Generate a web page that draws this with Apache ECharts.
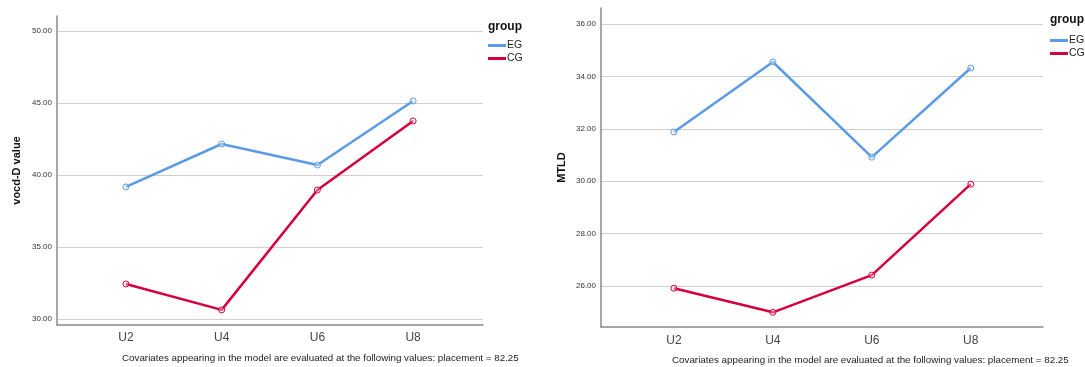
<!DOCTYPE html>
<html>
<head>
<meta charset="utf-8">
<script src="https://cdn.jsdelivr.net/npm/echarts@6/dist/echarts.min.js"></script>
<style>
html,body{margin:0;padding:0;background:#fff;}
#c{width:1085px;height:367px;}
</style>
</head>
<body>
<div id="c"></div>
<script>
var categories = ['U2', 'U4', 'U6', 'U8'];
var vocdEG = [39.17, 42.15, 40.69, 45.14];
var vocdCG = [32.43, 30.63, 38.96, 43.75];
var mtldEG = [31.88, 34.55, 30.92, 34.32];
var mtldCG = [25.92, 25.00, 26.42, 29.89];
var vocdTicks = [30, 35, 40, 45, 50];
var mtldTicks = [26, 28, 30, 32, 34, 36];
var footnote = 'Covariates appearing in the model are evaluated at the following values: placement = 82.25';

var FONT = 'Liberation Sans, Arial, sans-serif';
var BLUE = '#5b9be6';
var RED = '#d5003b';

function pts(arr) { return arr.map(function (v, i) { return [i, v]; }); }

function xAxisCfg(gi, min, max, margin) {
  return {
    type: 'value', gridIndex: gi, min: min, max: max,
    axisLine: { show: true, onZero: false, lineStyle: { color: '#8a8a8a', width: 1.5 } },
    axisTick: { show: false, customValues: [0, 1, 2, 3] },
    splitLine: { show: false },
    axisLabel: {
      customValues: [0, 1, 2, 3],
      formatter: function (v) { return categories[Math.round(v)]; },
      color: '#444', fontSize: 12, fontFamily: FONT, margin: margin
    }
  };
}
function yAxisCfg(gi, min, max, ticks, name, gap) {
  return {
    type: 'value', gridIndex: gi, min: min, max: max,
    name: name, nameLocation: 'middle', nameGap: gap,
    nameTextStyle: { fontSize: 11, fontWeight: 'bold', fontFamily: FONT, color: '#111' },
    axisLine: { show: true, onZero: false, lineStyle: { color: '#8a8a8a', width: 1.5 } },
    axisTick: { show: false, customValues: ticks },
    splitLine: { show: true, lineStyle: { color: '#cfcfcf', width: 1.2 } },
    axisLabel: {
      customValues: ticks,
      formatter: function (v) { return v.toFixed(2); },
      color: '#333', fontSize: 8, fontFamily: FONT, margin: 5
    }
  };
}
function line(name, data, color, xi, yi) {
  return {
    type: 'line', name: name, data: pts(data), xAxisIndex: xi, yAxisIndex: yi,
    symbol: 'circle', symbolSize: 6, showSymbol: true,
    lineStyle: { color: color, width: 2.5 },
    itemStyle: { color: 'rgba(255,255,255,0.3)', borderColor: color, borderWidth: 1 },
    animation: false
  };
}
function legendCfg(left, top) {
  return {
    data: [
      { name: 'EG', itemStyle: { color: BLUE, borderWidth: 0 } },
      { name: 'CG', itemStyle: { color: RED, borderWidth: 0 } }
    ],
    orient: 'vertical', left: left, top: top, itemGap: 2, itemWidth: 18, itemHeight: 3, icon: 'rect',
    textStyle: { fontSize: 10.5, fontFamily: FONT, color: '#222', padding: [0, 0, 0, -4] },
    padding: 0, selectedMode: false
  };
}

var chart = echarts.init(document.getElementById('c'), null, { renderer: 'canvas' });
chart.setOption({
  animation: false,
  grid: [
    { left: 57, top: 16, width: 426, bottom: 42 },
    { left: 601, top: 8, width: 442, bottom: 40 }
  ],
  xAxis: [xAxisCfg(0, -0.72, 3.73, 7), xAxisCfg(1, -0.737, 3.73, 8)],
  yAxis: [yAxisCfg(0, 29.58, 51.04, vocdTicks, 'vocd-D value', 35), yAxisCfg(1, 24.44, 36.61, mtldTicks, 'MTLD', 34)],
  title: [
    { text: 'group', left: 488, top: 21, padding: 0, textStyle: { fontSize: 12, fontWeight: 'bold', fontFamily: FONT, color: '#111' } },
    { text: 'group', left: 1050, top: 14, padding: 0, textStyle: { fontSize: 12, fontWeight: 'bold', fontFamily: FONT, color: '#111' } },
    { text: footnote, left: 122, top: 353, padding: 0, textStyle: { fontSize: 9.8, fontWeight: 'normal', fontFamily: FONT, color: '#222' } },
    { text: footnote, left: 672, top: 355, padding: 0, textStyle: { fontSize: 9.8, fontWeight: 'normal', fontFamily: FONT, color: '#222' } }
  ],
  legend: [legendCfg(488, 40), legendCfg(1050, 35)],
  series: [
    line('EG', vocdEG, BLUE, 0, 0),
    line('CG', vocdCG, RED, 0, 0),
    line('EG', mtldEG, BLUE, 1, 1),
    line('CG', mtldCG, RED, 1, 1)
  ]
});
</script>
</body>
</html>
